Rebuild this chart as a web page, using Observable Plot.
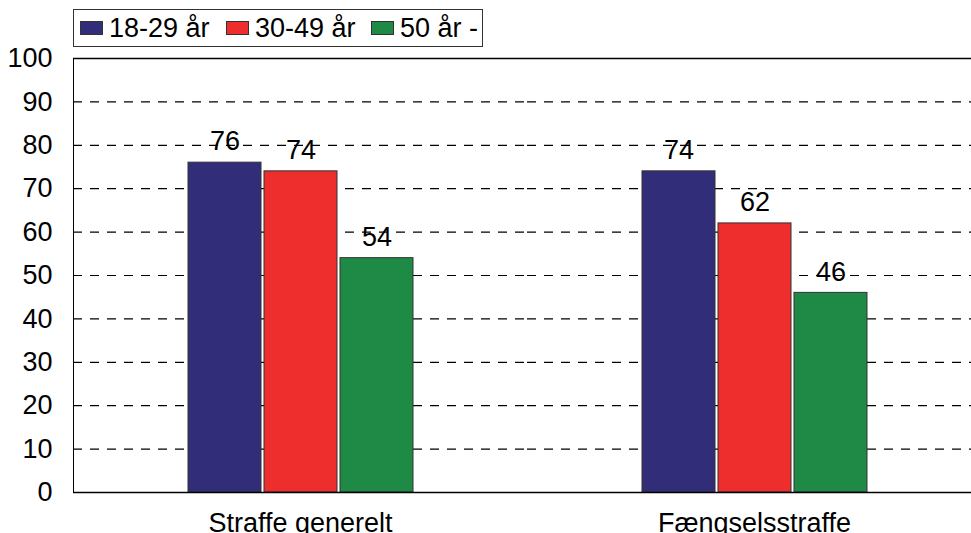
<!DOCTYPE html>
<html>
<head>
<meta charset="utf-8">
<script src="https://cdn.jsdelivr.net/npm/d3@7"></script>
<script src="https://cdn.jsdelivr.net/npm/@observablehq/plot@0.6"></script>
<style>
  html, body { margin: 0; padding: 0; background: #fff; overflow: hidden; }
  body { width: 971px; height: 533px; font-family: "Liberation Sans", Arial, sans-serif; }
  #legend { position: relative; height: 48px; }
  #legend .box { position: absolute; left: 73px; top: 9px; width: 408px; height: 36px; border: 1px solid #333; }
  #legend .item { position: absolute; top: 0; height: 36px; display: flex; align-items: center; font-size: 27px; color: #000; white-space: nowrap; }
  #legend .sw { width: 21px; height: 12px; border: 1px solid #333; margin-right: 6px; }
  #chart svg { display: block; }
</style>
</head>
<body>
<div id="legend"><div class="box"></div></div>
<div id="chart"></div>
<script>
const categories = ["Straffe generelt", "Fængselsstraffe"];
const ages = ["18-29 år", "30-49 år", "50 år -"];
const values1829 = [76, 74];
const values3049 = [74, 62];
const values50 = [54, 46];
const yTicks = [0, 10, 20, 30, 40, 50, 60, 70, 80, 90, 100];
const gridValues = [10, 20, 30, 40, 50, 60, 70, 80, 90];
const colors = ["#322d78", "#ee2d2d", "#1f8a45"];

const series = [values1829, values3049, values50];
const data = [];
categories.forEach((c, i) => {
  ages.forEach((a, j) => data.push({cat: c, age: a, value: series[j][i]}));
});

// legend
const box = document.querySelector("#legend .box");
const lefts = [6, 152, 297];
ages.forEach((a, j) => {
  const it = document.createElement("div");
  it.className = "item";
  it.style.left = lefts[j] + "px";
  const sw = document.createElement("div");
  sw.className = "sw";
  sw.style.background = colors[j];
  it.appendChild(sw);
  it.appendChild(document.createTextNode(a));
  box.appendChild(it);
});

const chart = Plot.plot({
  width: 981,
  height: 485,
  marginTop: 10,
  marginBottom: 41,
  marginLeft: 73,
  marginRight: 0,
  style: {fontFamily: "Liberation Sans, Arial, sans-serif", fontSize: "27px", color: "#000", background: "#fff", overflow: "visible", maxWidth: "none"},
  fx: {domain: categories, padding: 0, axis: "bottom", tickSize: 0, tickPadding: 20, label: null},
  x: {domain: ages, paddingInner: 0.04, paddingOuter: 1.5, axis: null},
  y: {domain: [0, 100], ticks: yTicks, tickSize: 0, tickPadding: 21, label: null, line: true},
  color: {domain: ages, range: colors},
  marks: [
    Plot.ruleY(gridValues, {stroke: "#000", strokeDasharray: "9,8", strokeWidth: 1.2}),
    Plot.barY(data, {fx: "cat", x: "age", y: "value", fill: "age", stroke: "#333", strokeWidth: 1}),
    Plot.text(data, {fx: "cat", x: "age", y: "value", text: d => String(d.value), dy: -21, fontSize: 27, fill: "#000"}),
    Plot.ruleY([0, 100], {stroke: "#000", strokeWidth: 1.5})
  ]
});
document.getElementById("chart").appendChild(chart);
</script>
</body>
</html>
